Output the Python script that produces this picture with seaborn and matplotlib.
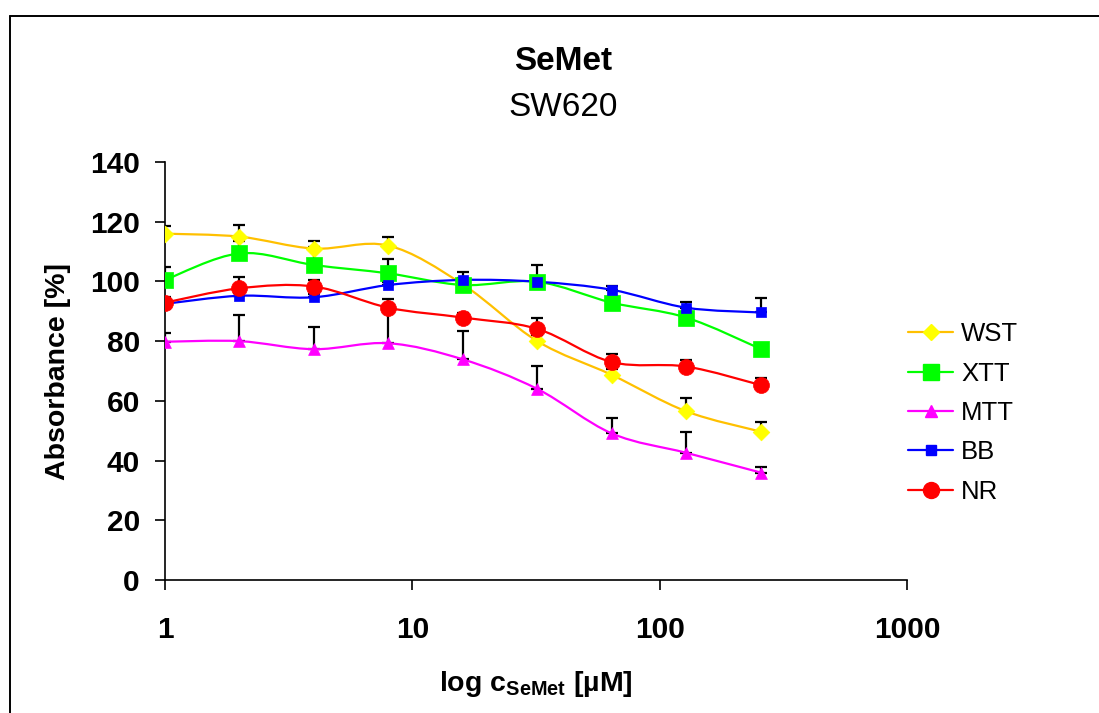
import numpy as np
import matplotlib
matplotlib.use('Agg')
import matplotlib.pyplot as plt
import seaborn as sns
from matplotlib.path import Path
from matplotlib.patches import PathPatch
from matplotlib.lines import Line2D
from matplotlib.ticker import FixedLocator, NullLocator

# Concentrations of SeMet [uM]
conc = [1, 2, 4, 8, 16, 32, 64, 128, 256]

# Absorbance [%] per assay
wst = [116, 115, 111, 112, 99, 80, 68.7, 56.5, 49.7]
xtt = [100.5, 109.4, 105.5, 102.7, 98.8, 99.9, 92.9, 87.9, 77.4]
mtt = [79.8, 80, 77.3, 79.3, 73.9, 64, 49.1, 42.6, 36]
bb = [92.5, 95.2, 94.7, 98.8, 100.5, 99.9, 97.2, 91.2, 89.6]
nr = [92.9, 97.7, 98.3, 91.2, 87.9, 84.1, 73, 71.5, 65.3]

# upper error bars (SD)
wst_err = [2.7, 4, 2.7, 2.8, 2, 2, 2, 4.3, 3.3]
xtt_err = [4.2, 4, 6, 4.8, 2, 5.6, 1, 1, 1]
mtt_err = [2.8, 8.8, 7.3, 11, 9.6, 7.7, 5.1, 7, 1.8]
bb_err = [1, 1, 1, 1, 2.5, 1, 1.3, 2, 4.8]
nr_err = [2, 3.9, 2.2, 3, 1.5, 3.5, 2.7, 2.2, 2.2]

labels = ['WST', 'XTT', 'MTT', 'BB', 'NR']

sns.set_style('white')
plt.rcParams['font.family'] = ['Liberation Sans', 'DejaVu Sans']
plt.rcParams['mathtext.fontset'] = 'custom'
plt.rcParams['mathtext.rm'] = 'Liberation Sans'
plt.rcParams['mathtext.bf'] = 'Liberation Sans:bold'
for k in ['text.color', 'axes.labelcolor', 'xtick.color', 'ytick.color']:
    plt.rcParams[k] = 'black'

series = [
    # values, errors, line colour, marker colour, marker, marker size (pt)
    (wst, wst_err, '#FFC000', '#FFFF00', 'D', 8.5),
    (xtt, xtt_err, '#00FF00', '#00FF00', 's', 11.5),
    (mtt, mtt_err, '#FF00FF', '#FF00FF', '^', 8.5),
    (bb, bb_err, '#0000FF', '#0000FF', 's', 6.5),
    (nr, nr_err, '#FF0000', '#FF0000', 'o', 11.5),
]


def smooth_path(x, y):
    # Excel-like smoothed line: cubic Bezier through the points, built in log-x space
    lx = np.log10(x)
    y = np.asarray(y, dtype=float)
    n = len(lx)
    verts = [(x[0], y[0])]
    codes = [Path.MOVETO]
    for i in range(n - 1):
        i0 = max(i - 1, 0)
        i3 = min(i + 2, n - 1)
        c1x = lx[i] + (lx[i + 1] - lx[i0]) / 6
        c1y = y[i] + (y[i + 1] - y[i0]) / 6
        c2x = lx[i + 1] - (lx[i3] - lx[i]) / 6
        c2y = y[i + 1] - (y[i3] - y[i]) / 6
        verts += [(10 ** c1x, c1y), (10 ** c2x, c2y), (x[i + 1], y[i + 1])]
        codes += [Path.CURVE4] * 3
    return Path(verts, codes)


fig = plt.figure(figsize=(10.99, 7.13), dpi=100)
ax = fig.add_axes([165 / 1099, 1 - 580 / 713, (907 - 165) / 1099, (580 - 162) / 713])
ax.set_xscale('log')

handles = []
for (vals, err, lc, mc, mk, ms), lab in zip(series, labels):
    ax.errorbar(conc, vals, yerr=[np.zeros(len(err)), err], fmt='none',
                ecolor='black', elinewidth=1.6, capsize=4.5, capthick=1.6, zorder=2)
    ax.add_patch(PathPatch(smooth_path(conc, vals), fill=False, edgecolor=lc,
                           lw=1.6, zorder=3))
    sns.scatterplot(x=conc, y=vals, ax=ax, marker=mk, s=ms ** 2, color=mc,
                    edgecolor=mc, linewidth=0.5, zorder=4, legend=False)
    handles.append(Line2D([], [], color=lc, lw=1.6, marker=mk, markersize=ms,
                          markerfacecolor=mc, markeredgecolor=mc))

ax.set_xlim(1, 1000)
ax.set_ylim(0, 140)
ax.xaxis.set_major_locator(FixedLocator([1, 10, 100, 1000]))
ax.xaxis.set_minor_locator(NullLocator())
ax.set_xticklabels(['1', '10', '100', '1000'])
ax.set_yticks(range(0, 141, 20))

for s in ['top', 'right']:
    ax.spines[s].set_visible(False)
for s in ['left', 'bottom']:
    ax.spines[s].set_color('black')
    ax.spines[s].set_linewidth(1.2)

ax.tick_params(axis='both', which='major', direction='out', length=7, width=1.2,
               color='black', labelsize=21.5)
ax.tick_params(axis='y', pad=11, left=True)
ax.tick_params(axis='x', pad=19, bottom=True)
for t in ax.get_xticklabels() + ax.get_yticklabels():
    t.set_fontweight('bold')

ax.set_ylabel('Absorbance [%]', fontsize=20.5, fontweight='bold', labelpad=14)
ax.set_xlabel(r'log c$_{\mathbf{SeMet}}$ [µM]', fontsize=20.5, fontweight='bold',
              labelpad=18)

fig.text(563 / 1099, 1 - 62 / 713, 'SeMet', fontsize=24, fontweight='bold',
         ha='center', va='center')
fig.text(563 / 1099, 1 - 107 / 713, 'SW620', fontsize=24, ha='center', va='center')

ax.legend(handles, labels, loc='center left', bbox_to_anchor=(898 / 1099, 1 - 413 / 713),
          bbox_transform=fig.transFigure, frameon=False, fontsize=18.5,
          handlelength=1.75, handletextpad=0.3, labelspacing=0.6, borderaxespad=0)

# chart area border (left and top edges visible)
fig.add_artist(Line2D([10 / 1099, 10 / 1099], [0, 1 - 16 / 713],
                      transform=fig.transFigure, color='black', lw=1.4))
fig.add_artist(Line2D([10 / 1099, 1], [1 - 16 / 713, 1 - 16 / 713],
                      transform=fig.transFigure, color='black', lw=1.4))

fig.savefig('out.png', dpi=100)
plt.close(fig)
